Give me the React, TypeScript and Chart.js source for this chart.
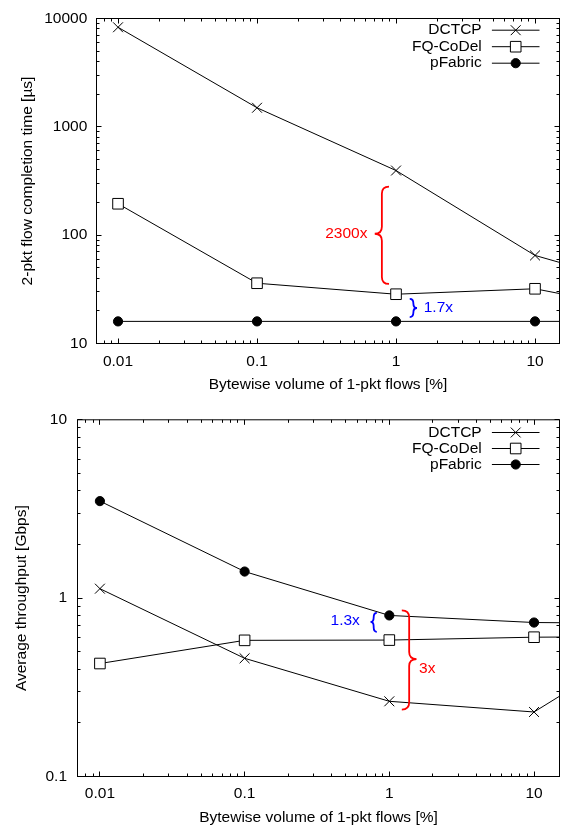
import React, { useEffect, useRef } from 'react';
import { Chart, registerables } from 'chart.js';
import { drawPoint } from 'chart.js/helpers';

Chart.register(...registerables);

const FONT = '"Liberation Sans", Arial, Helvetica, sans-serif';
const FS = 15.5;

// ---- data ----
const xValues = [0.01, 0.1, 1, 10, 100];
const seriesNames = ['DCTCP', 'FQ-CoDel', 'pFabric'];
const fctDCTCP = [8300, 1500, 395, 65, 28];
const fctFQCoDel = [195, 36, 28.5, 32, 18];
const fctPFabric = [16, 16, 16, 16, 16];
const thrDCTCP = [1.13, 0.46, 0.264, 0.23, 0.73];
const thrFQCoDel = [0.43, 0.58, 0.582, 0.604, 0.61];
const thrPFabric = [3.5, 1.41, 0.8, 0.73, 0.72];
const xTickValues = [0.01, 0.1, 1, 10];
const fctTickValues = [10, 100, 1000, 10000];
const thrTickValues = [0.1, 1, 10];
const xRange = [0.007, 15];
const fctRange = [10, 10000];
const thrRange = [0.1, 10];
const xTitle = 'Bytewise volume of 1-pkt flows [%]';
const fctTitle = '2-pkt flow completion time [\u00b5s]';
const thrTitle = 'Average throughput [Gbps]';

const seriesStyles = [
  { pointStyle: 'crossRot', pointRadius: 7, pointBackgroundColor: '#000', pointBorderColor: '#000', pointBorderWidth: 1 },
  { pointStyle: 'rect', pointRadius: 7.5, pointBackgroundColor: '#fff', pointBorderColor: '#000', pointBorderWidth: 1 },
  { pointStyle: 'circle', pointRadius: 4.6, pointBackgroundColor: '#000', pointBorderColor: '#000', pointBorderWidth: 1 },
];

function makeDatasets(series: number[][]) {
  return series.map((vals, i) => ({
    label: seriesNames[i],
    data: vals.map((v, j) => ({ x: xValues[j], y: v })),
    borderColor: '#000',
    borderWidth: 1,
    tension: 0,
    ...seriesStyles[i],
    pointHoverRadius: seriesStyles[i].pointRadius,
  }));
}

function tickList(min: number, max: number) {
  const out: { v: number; major: boolean }[] = [];
  for (let d = Math.floor(Math.log10(min)); d <= Math.ceil(Math.log10(max)); d++) {
    for (let m = 1; m <= 9; m++) {
      const v = m * Math.pow(10, d);
      if (v >= min * 0.9999 && v <= max * 1.0001) out.push({ v, major: m === 1 });
    }
  }
  return out;
}

function drawBrace(ctx: CanvasRenderingContext2D, xEnd: number, xTip: number, yTop: number, yBot: number, yTip: number) {
  const xs = (xEnd + xTip) / 2;
  const r = Math.min(7, (yTip - yTop) / 2, (yBot - yTip) / 2);
  ctx.beginPath();
  ctx.moveTo(xEnd, yTop);
  ctx.quadraticCurveTo(xs, yTop, xs, yTop + r);
  ctx.lineTo(xs, yTip - r);
  ctx.quadraticCurveTo(xs, yTip, xTip, yTip);
  ctx.quadraticCurveTo(xs, yTip, xs, yTip + r);
  ctx.lineTo(xs, yBot - r);
  ctx.quadraticCurveTo(xs, yBot, xEnd, yBot);
  ctx.stroke();
}

const gnuPlugin = {
  id: 'gnu',
  afterDraw(chart: any, _args: any, opts: any) {
    const { ctx, chartArea: a, scales } = chart;
    const xs = scales.x;
    const ys = scales.y;
    ctx.save();
    ctx.strokeStyle = '#000';
    ctx.lineWidth = 1;
    ctx.beginPath();
    for (const t of tickList(xs.min, xs.max)) {
      const px = Math.floor(xs.getPixelForValue(t.v)) + 0.5;
      const L = t.major ? opts.majorLen : opts.minorLen;
      ctx.moveTo(px, a.bottom);
      ctx.lineTo(px, a.bottom - L);
      ctx.moveTo(px, a.top);
      ctx.lineTo(px, a.top + L);
    }
    for (const t of tickList(ys.min, ys.max)) {
      const py = Math.floor(ys.getPixelForValue(t.v)) + 0.5;
      const L = t.major ? opts.majorLen : opts.minorLen;
      ctx.moveTo(a.left, py);
      ctx.lineTo(a.left + L, py);
      ctx.moveTo(a.right, py);
      ctx.lineTo(a.right - L, py);
    }
    ctx.stroke();
    ctx.strokeRect(a.left, a.top, a.right - a.left, a.bottom - a.top);

    // legend
    const lg = opts.legend;
    ctx.font = `${FS}px ${FONT}`;
    ctx.textBaseline = 'middle';
    chart.data.datasets.forEach((ds: any, i: number) => {
      const y = a.top + lg.top + i * lg.spacing;
      ctx.fillStyle = '#000';
      ctx.textAlign = 'right';
      ctx.fillText(ds.label, a.right - lg.textRight, y);
      ctx.strokeStyle = ds.borderColor;
      ctx.lineWidth = ds.borderWidth;
      ctx.beginPath();
      ctx.moveTo(a.right - lg.lineStart, y);
      ctx.lineTo(a.right - lg.lineEnd, y);
      ctx.stroke();
      ctx.fillStyle = ds.pointBackgroundColor;
      ctx.strokeStyle = ds.pointBorderColor;
      ctx.lineWidth = ds.pointBorderWidth;
      drawPoint(ctx, { pointStyle: ds.pointStyle, radius: ds.pointRadius, borderWidth: ds.pointBorderWidth, rotation: 0 } as any,
        a.right - (lg.lineStart + lg.lineEnd) / 2, y);
    });

    // braces + ratio labels
    for (const n of opts.notes) {
      const xp = xs.getPixelForValue(n.at);
      const yTop = ys.getPixelForValue(n.top) + n.gapTop;
      const yBot = ys.getPixelForValue(n.bottom) - n.gapBottom;
      const yTip = yTop + (yBot - yTop) * n.tipFrac;
      const xTip = xp + n.xTip;
      ctx.strokeStyle = n.color;
      ctx.lineWidth = 1.8;
      drawBrace(ctx, xp + n.xEnd, xTip, yTop, yBot, yTip);
      ctx.fillStyle = n.color;
      ctx.textAlign = n.textAlign;
      ctx.textBaseline = 'middle';
      ctx.fillText(n.label, xTip + n.textDx, yTip + n.textDy);
    }
    ctx.restore();
  },
};

function makeConfig(p: any) {
  return {
    type: 'line',
    data: { datasets: makeDatasets(p.series) },
    plugins: [gnuPlugin],
    options: {
      animation: false,
      responsive: false,
      devicePixelRatio: 1,
      events: [],
      layout: { padding: { top: p.padTop, right: p.padRight, left: 0, bottom: 0 } },
      plugins: {
        legend: { display: false },
        tooltip: { enabled: false },
        gnu: { majorLen: 5, minorLen: 3, legend: p.legend, notes: p.notes },
      },
      scales: {
        x: {
          type: 'logarithmic',
          min: xRange[0],
          max: xRange[1],
          grid: { display: false, drawTicks: false },
          border: { display: false },
          afterBuildTicks: (s: any) => { s.ticks = xTickValues.map((v) => ({ value: v })); },
          afterFit: (s: any) => { s.height = p.xAxisHeight; },
          ticks: {
            autoSkip: false, maxRotation: 0, padding: p.xTickPad, color: '#000',
            font: { family: FONT, size: FS },
            callback: (v: any) => String(v),
          },
          title: {
            display: true, text: xTitle, color: '#000',
            font: { family: FONT, size: FS }, padding: { top: 0, bottom: 0 },
          },
        },
        y: {
          type: 'logarithmic',
          min: p.yRange[0],
          max: p.yRange[1],
          grid: { display: false, drawTicks: false },
          border: { display: false },
          afterBuildTicks: (s: any) => { s.ticks = p.yTicks.map((v: number) => ({ value: v })); },
          afterFit: (s: any) => { s.width = p.yAxisWidth; },
          ticks: {
            autoSkip: false, padding: p.yTickPad, color: '#000',
            font: { family: FONT, size: FS },
            callback: (v: any) => String(v),
          },
          title: {
            display: true, text: p.yTitle, color: '#000',
            font: { family: FONT, size: FS }, padding: { top: p.yTitlePad, bottom: 0 },
          },
        },
      },
    },
  };
}

const topParams = {
  series: [fctDCTCP, fctFQCoDel, fctPFabric],
  yRange: fctRange,
  yTicks: fctTickValues,
  yTitle: fctTitle,
  padTop: 13.5,
  padRight: 8.5,
  xAxisHeight: 50.5,
  yAxisWidth: 96.5,
  xTickPad: 8.9,
  yTickPad: 9.2,
  yTitlePad: 18.5,
  legend: { top: 11.7, spacing: 16.5, textRight: 77.8, lineStart: 67.6, lineEnd: 20 },
  notes: [
    { label: '2300x', color: '#ff0000', at: 1, top: fctDCTCP[2], bottom: fctFQCoDel[2], gapTop: 16, gapBottom: 10.3, tipFrac: 0.485, xEnd: -7, xTip: -21.3, textAlign: 'right', textDx: -7.3, textDy: 0 },
    { label: '1.7x', color: '#0000ff', at: 1, top: fctFQCoDel[2], bottom: fctPFabric[2], gapTop: 4.7, gapBottom: 4.3, tipFrac: 0.5, xEnd: 13.7, xTip: 21, textAlign: 'left', textDx: 6.7, textDy: -0.5 },
  ],
};

const bottomParams = {
  series: [thrDCTCP, thrFQCoDel, thrPFabric],
  yRange: thrRange,
  yTicks: thrTickValues,
  yTitle: thrTitle,
  padTop: 17.5,
  padRight: 8.5,
  xAxisHeight: 50.5,
  yAxisWidth: 77.5,
  xTickPad: 7.5,
  yTickPad: 10.5,
  yTitlePad: 12.7,
  legend: { top: 12.7, spacing: 16, textRight: 77.8, lineStart: 67.6, lineEnd: 20 },
  notes: [
    { label: '1.3x', color: '#0000ff', at: 1, top: thrPFabric[2], bottom: thrFQCoDel[2], gapTop: -2.6, gapBottom: 8.3, tipFrac: 0.48, xEnd: -12.5, xTip: -18.8, textAlign: 'right', textDx: -10.7, textDy: -1 },
    { label: '3x', color: '#ff0000', at: 1, top: thrPFabric[2], bottom: thrDCTCP[2], gapTop: -5, gapBottom: -8.3, tipFrac: 0.49, xEnd: 12.5, xTip: 27.2, textAlign: 'left', textDx: 2.6, textDy: 10 },
  ],
};

function Plot({ params, top, height }: { params: any; top: number; height: number }) {
  const ref = useRef<HTMLCanvasElement | null>(null);
  useEffect(() => {
    if (!ref.current) return;
    const chart = new Chart(ref.current, makeConfig(params) as any);
    return () => chart.destroy();
  }, [params]);
  return (
    <canvas
      ref={ref}
      width={568}
      height={height}
      style={{ position: 'absolute', left: 0, top, width: 568, height, display: 'block' }}
    />
  );
}

export default function App() {
  return (
    <div style={{ position: 'fixed', left: 0, top: 0, width: 568, height: 829, background: '#fff', overflow: 'hidden' }}>
      <Plot params={topParams} top={0} height={394} />
      <Plot params={bottomParams} top={400} height={427} />
    </div>
  );
}
